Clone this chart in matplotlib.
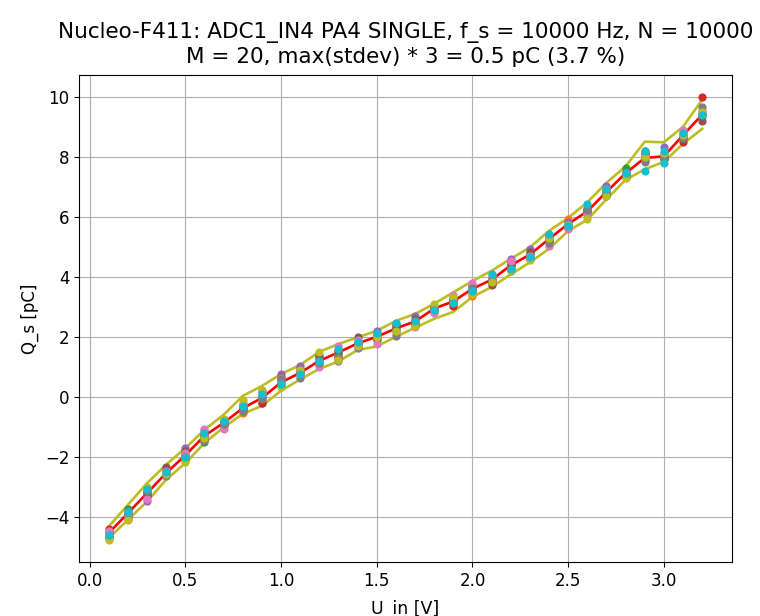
"""Nucleo-F411 ADC charge measurement: M repeated sweeps with mean and 3-sigma band."""

import matplotlib

matplotlib.use("Agg", force=True)

import matplotlib.pyplot as plt  # noqa: E402

# Input voltage steps [V]
u_in = [0.1, 0.2, 0.3, 0.4, 0.5, 0.6, 0.7, 0.8, 0.9, 1.0, 1.1, 1.2, 1.3, 1.4, 1.5, 1.6,
        1.7, 1.8, 1.9, 2.0, 2.1, 2.2, 2.3, 2.4, 2.5, 2.6, 2.7, 2.8, 2.9, 3.0, 3.1, 3.2]

# Mean charge (red) and the upper / lower band (olive) [pC]
q_mean = [-4.52, -3.86, -3.19, -2.52, -1.93, -1.28, -0.85, -0.36, -0.02, 0.50, 0.82,
          1.22, 1.50, 1.80, 2.02, 2.30, 2.53, 2.96, 3.20, 3.62, 3.92, 4.40, 4.76, 5.28,
          5.78, 6.20, 6.85, 7.47, 7.98, 8.03, 8.74, 9.42]
q_upper = [-4.30, -3.58, -2.86, -2.24, -1.69, -1.08, -0.58, 0.05, 0.38, 0.78, 1.08,
           1.52, 1.78, 2.00, 2.22, 2.55, 2.78, 3.12, 3.50, 3.88, 4.22, 4.62, 5.00, 5.55,
           5.98, 6.50, 7.15, 7.70, 8.52, 8.50, 9.02, 9.92]
q_lower = [-4.69, -4.08, -3.47, -2.74, -2.19, -1.52, -1.00, -0.55, -0.28, 0.22, 0.60,
           0.95, 1.20, 1.58, 1.70, 2.02, 2.32, 2.62, 2.85, 3.35, 3.68, 4.10, 4.50, 4.95,
           5.55, 5.92, 6.60, 7.25, 7.60, 7.85, 8.45, 8.95]

# Individual sweeps, one column per series colour (tab10 order), one row per u_in
q_samples = [
    [-4.50, -4.62, -4.70, -4.40, -4.52, -4.48, -4.44, -4.66, -4.74, -4.60],
    [-3.90, -3.98, -3.72, -3.85, -3.80, -4.00, -3.95, -4.05, -4.08, -3.82],
    [-3.20, -3.10, -3.25, -3.15, -3.45, -3.30, -3.38, -3.12, -3.00, -3.05],
    [-2.50, -2.55, -2.60, -2.45, -2.40, -2.32, -2.45, -2.62, -2.55, -2.50],
    [-1.95, -2.05, -2.10, -1.90, -1.70, -1.80, -1.85, -2.00, -2.15, -1.98],
    [-1.30, -1.35, -1.50, -1.25, -1.10, -1.40, -1.05, -1.45, -1.35, -1.20],
    [-0.85, -0.90, -0.80, -0.78, -0.90, -0.95, -1.05, -0.88, -0.72, -0.80],
    [-0.35, -0.52, -0.45, -0.40, -0.25, -0.30, -0.20, -0.45, -0.10, -0.30],
    [0.00, -0.10, -0.20, -0.18, 0.05, 0.20, 0.15, -0.05, 0.25, 0.10],
    [0.50, 0.55, 0.40, 0.60, 0.78, 0.68, 0.65, 0.60, 0.35, 0.45],
    [0.80, 0.75, 0.90, 0.95, 1.05, 0.85, 0.70, 0.65, 0.90, 0.78],
    [1.20, 1.25, 1.10, 1.30, 1.35, 1.40, 1.00, 1.15, 1.50, 1.20],
    [1.50, 1.45, 1.40, 1.55, 1.20, 1.30, 1.70, 1.35, 1.25, 1.62],
    [1.80, 1.75, 1.70, 1.85, 1.65, 2.00, 1.90, 1.78, 1.72, 1.85],
    [2.00, 2.05, 1.90, 2.10, 2.20, 1.95, 1.78, 2.05, 2.00, 2.15],
    [2.30, 2.25, 2.20, 2.40, 2.45, 2.35, 2.10, 2.05, 2.20, 2.48],
    [2.50, 2.55, 2.40, 2.45, 2.70, 2.60, 2.35, 2.42, 2.38, 2.55],
    [2.95, 2.90, 2.85, 3.00, 3.05, 2.90, 2.82, 3.00, 3.12, 2.92],
    [3.20, 3.15, 3.10, 3.05, 3.30, 3.25, 3.42, 3.30, 3.35, 3.15],
    [3.60, 3.38, 3.70, 3.50, 3.75, 3.55, 3.80, 3.65, 3.45, 3.55],
    [3.90, 3.95, 3.85, 3.80, 4.00, 3.75, 4.05, 3.90, 3.85, 4.12],
    [4.40, 4.35, 4.30, 4.45, 4.60, 4.50, 4.55, 4.20, 4.22, 4.28],
    [4.75, 4.70, 4.80, 4.60, 4.95, 4.85, 4.70, 4.65, 4.58, 4.68],
    [5.30, 5.20, 5.25, 5.35, 5.40, 5.20, 5.05, 5.15, 5.30, 5.45],
    [5.80, 5.95, 5.75, 5.70, 5.85, 5.65, 5.60, 5.70, 5.75, 5.72],
    [6.20, 6.15, 6.10, 6.25, 6.30, 6.20, 6.10, 6.25, 5.95, 6.45],
    [6.85, 6.80, 6.90, 6.75, 7.05, 6.70, 6.95, 6.80, 6.70, 6.95],
    [7.45, 7.50, 7.65, 7.40, 7.50, 7.35, 7.45, 7.40, 7.30, 7.48],
    [8.00, 8.05, 7.90, 8.10, 8.15, 8.20, 7.95, 7.85, 8.00, 8.22],
    [8.05, 8.10, 8.00, 7.95, 8.35, 7.95, 8.10, 8.00, 8.15, 8.20],
    [8.75, 8.80, 8.70, 8.52, 8.70, 8.60, 8.92, 8.65, 8.75, 8.81],
    [9.40, 9.35, 9.45, 10.00, 9.50, 9.22, 9.55, 9.68, 9.50, 9.42],
]

# Stray points of the last sweep that fall outside the clusters
extra_u = [2.9, 3.0]
extra_q = [7.53, 7.80]

series_colors = ["tab:blue", "tab:orange", "tab:green", "tab:red", "tab:purple",
                 "tab:brown", "tab:pink", "tab:gray", "tab:olive", "tab:cyan"]

fig = plt.figure(figsize=(7.6, 6.16), dpi=100)
ax = fig.add_axes([0.104, 0.088, 0.859, 0.79])

ax.plot(u_in, q_mean, color="red", linewidth=1.9)
ax.plot(u_in, q_upper, color="#bcbd22", linewidth=1.9)
ax.plot(u_in, q_lower, color="#bcbd22", linewidth=1.9)

for k, color in enumerate(series_colors):
    ax.scatter(u_in, [row[k] for row in q_samples], s=24, color=color, zorder=3)
ax.scatter(extra_u, extra_q, s=24, color="tab:cyan", zorder=3)

ax.set_title("Nucleo-F411: ADC1_IN4 PA4 SINGLE, f_s = 10000 Hz, N = 10000\n"
             "M = 20, max(stdev) * 3 = 0.5 pC (3.7 %)", fontsize=15.5, pad=9)
ax.set_xlabel("U_in [V]", fontsize=12.5, labelpad=7)
ax.set_ylabel("Q_s [pC]", fontsize=12)
ax.tick_params(labelsize=12)
ax.set_yticks([-4, -2, 0, 2, 4, 6, 8, 10])
ax.grid(True)

fig.savefig("out.png", dpi=100)
plt.close(fig)
